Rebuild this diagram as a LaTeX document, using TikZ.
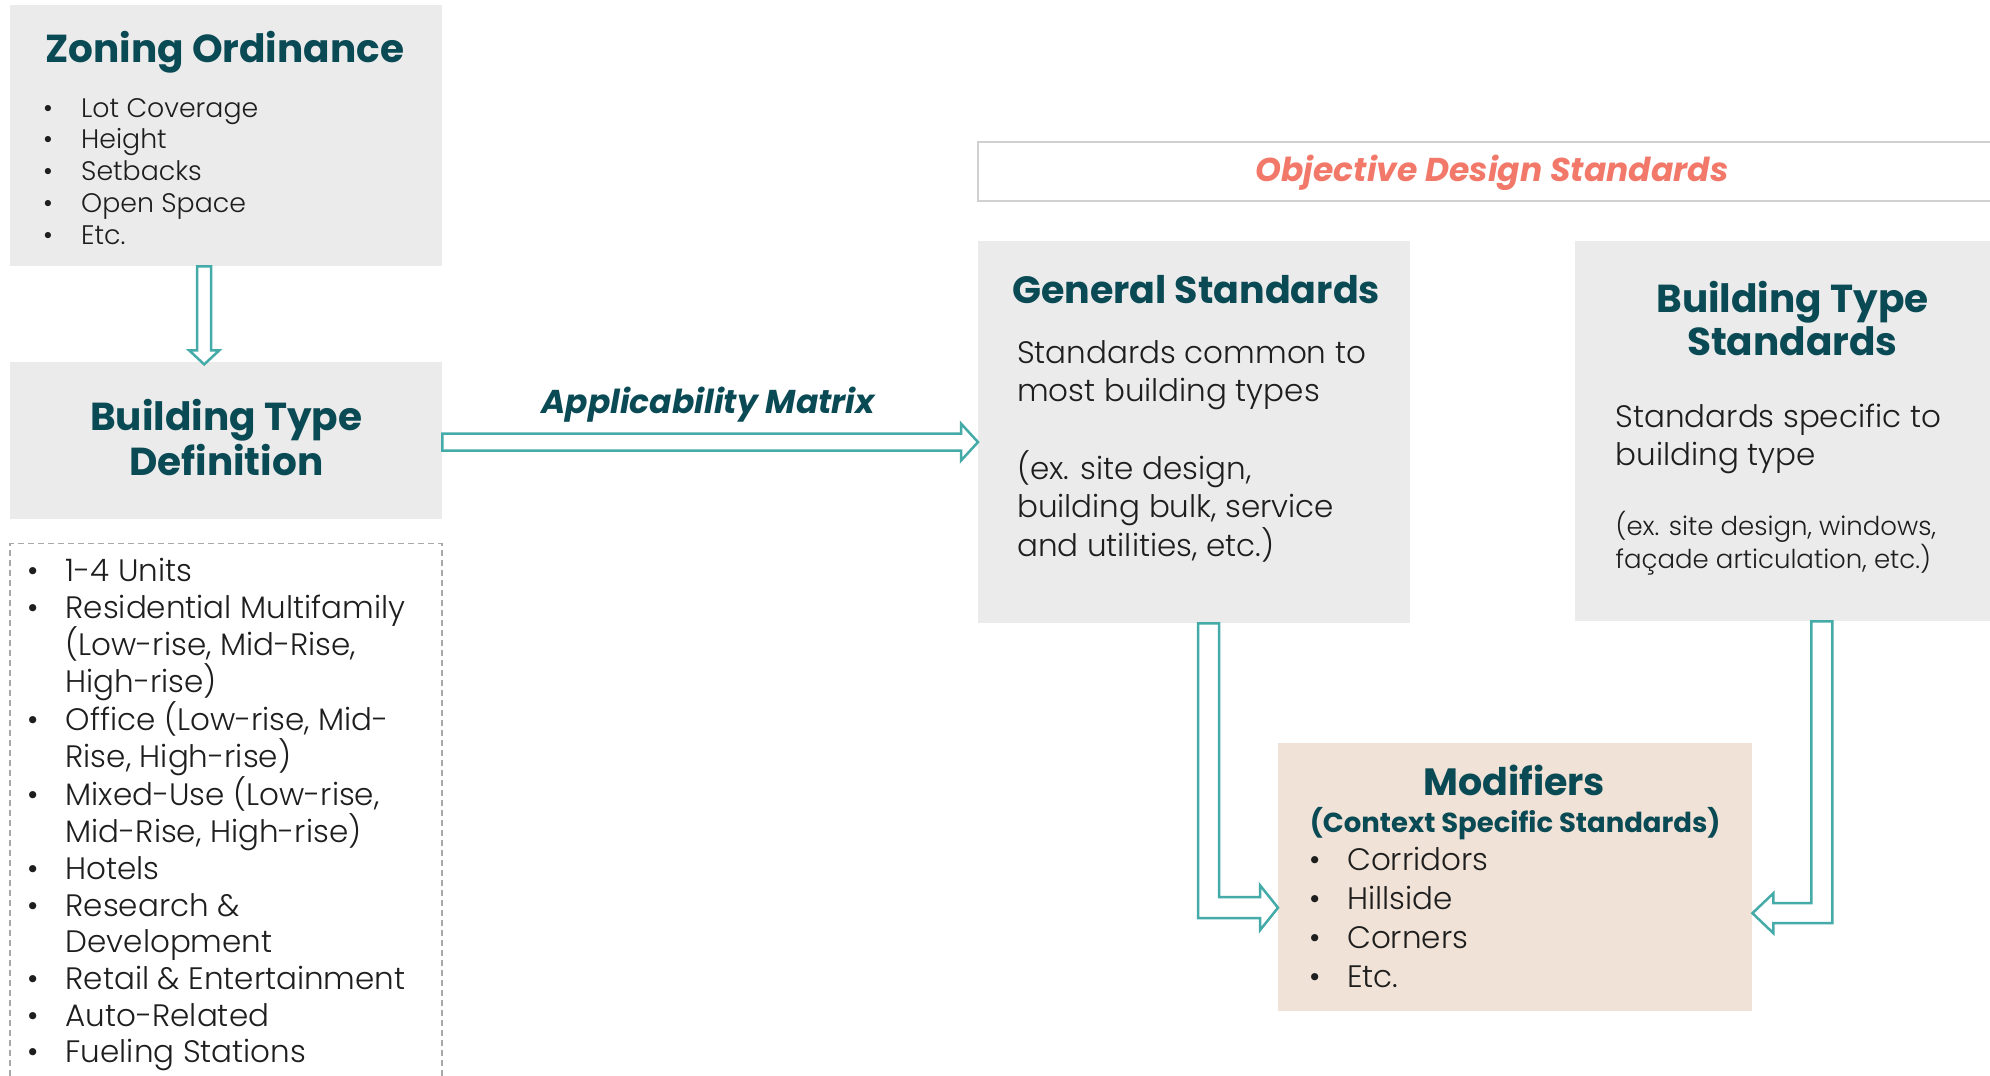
\documentclass[tikz,border=0pt]{standalone}
\usepackage{fontspec}
\setmainfont{Poppins}
\newfontfamily\lightfont{Poppins Light}
\usetikzlibrary{positioning, calc}

\definecolor{boxgray}{HTML}{EBEBEB}
\definecolor{deepteal}{HTML}{0A4A55}
\definecolor{lineteal}{HTML}{45ABA8}
\definecolor{salmon}{HTML}{F2786A}
\definecolor{sand}{HTML}{F0E2D6}
\definecolor{rulegray}{HTML}{D0D0D0}
\definecolor{dashgray}{HTML}{A8A8A8}
\definecolor{ink}{HTML}{1E1E1E}

\tikzstyle{greybox} = [fill=boxgray, inner sep=0pt, minimum width=432pt]
\tikzstyle{hollow} = [draw=lineteal, line width=2.5pt, fill=white, line join=miter]
\tikzstyle{title} = [inner sep=0pt, text=deepteal, font=\fontsize{39}{45}\selectfont\bfseries]
\tikzstyle{body} = [inner sep=0pt, text=ink, align=left]
\tikzstyle{slanted} = [inner sep=0pt, font=\fontsize{33}{40}\selectfont\bfseries\itshape]

\newcommand{\itm}[1][38pt]{\makebox[#1][l]{\textbullet}}

\begin{document}
\begin{tikzpicture}[x=1pt, y=-1pt]
	\useasboundingbox (0,0) rectangle (1990,1076);
	\clip (0,0) rectangle (1990,1076);

	%Boxes
	\node [greybox, minimum height=261pt, anchor=north west] (zon) at (10,5) {};
	\node [greybox, minimum height=157pt, below=95pt of zon] (btd) {};
	\node [draw=dashgray, dash pattern=on 6pt off 4pt, line width=1.5pt, minimum width=432pt, minimum height=560pt, inner sep=0pt, below=24pt of btd] (lst) {};

	\node [greybox, minimum height=382pt, anchor=north west] (gen) at (978,241) {};
	\node [greybox, minimum width=436pt, minimum height=380pt, right=164pt of gen.north east, anchor=north west] (bts) {};
	\node [draw=rulegray, line width=2pt, minimum width=1030pt, minimum height=59pt, inner sep=0pt, anchor=south west] (obj) at ($(gen.north west)+(-1,-39)$) {};
	\node [fill=sand, minimum width=474pt, minimum height=268pt, inner sep=0pt, anchor=north west] (mod) at (1278,743) {};

	%Texts (multi-line nodes sit on the baseline of their last line)
	\node [title, anchor=base west] (zontitle) at ($(zon.north west)+(35,57)$) {Zoning Ordinance};
	\node [body, anchor=base west, font=\lightfont\fontsize{26.8}{31.7}\selectfont] (zonlist) at ($(zon.north west)+(33,239)$)
		{\itm[38pt]Lot Coverage\\ \itm[38pt]Height\\ \itm[38pt]Setbacks\\ \itm[38pt]Open Space\\ \itm[38pt]Etc.};

	\node [title, anchor=base, align=center] (btdtitle) at ($(btd.north)+(0,114)$) {Building Type\\Definition};

	\node [body, anchor=base west, font=\lightfont\fontsize{31}{36.7}\selectfont] (lstitems) at ($(lst.north west)+(18,520)$)
		{\itm 1-4 Units\\
		 \itm Residential Multifamily\\
		 \hspace*{38pt}(Low-rise, Mid-Rise,\\
		 \hspace*{38pt}High-rise)\\
		 \itm Office (Low-rise, Mid-\\
		 \hspace*{38pt}Rise, High-rise)\\
		 \itm Mixed-Use (Low-rise,\\
		 \hspace*{38pt}Mid-Rise, High-rise)\\
		 \itm Hotels\\
		 \itm Research \&\\
		 \hspace*{38pt}Development\\
		 \itm Retail \& Entertainment\\
		 \itm Auto-Related\\
		 \itm Fueling Stations};

	\node [slanted, text=salmon, anchor=base] (objtitle) at ($(obj.north west)+(515,40)$) {Objective Design Standards};

	\node [title, anchor=base west, font=\fontsize{38}{45}\selectfont\bfseries] (gentitle) at ($(gen.north west)+(34,62)$) {General Standards};
	\node [body, anchor=base west, font=\lightfont\fontsize{31}{38.5}\selectfont] (gentext) at ($(gen.north west)+(39,315)$)
		{Standards common to\\most building types\\[39pt]
		 (ex. site design,\\building bulk, service\\and utilities, etc.)};

	\node [title, anchor=base, align=center, font=\fontsize{39}{43}\selectfont\bfseries] (btstitle) at ($(bts.north west)+(218,114)$) {Building Type\\Standards};
	\node [body, anchor=base west, font=\lightfont\fontsize{31}{38}\selectfont] (btstext) at ($(bts.north west)+(41,224)$)
		{Standards specific to\\building type};
	\node [body, anchor=base west, font=\lightfont\fontsize{26}{31}\selectfont] (btsex) at ($(bts.north west)+(41,327)$)
		{(ex. site design, windows,\\façade articulation, etc.)};

	\node [title, anchor=base, font=\fontsize{38}{43}\selectfont\bfseries] (modtitle) at ($(mod.north)+(-1,52)$) {Modifiers};
	\node [inner sep=0pt, text=deepteal, font=\fontsize{27.5}{30}\selectfont\bfseries, anchor=base] (modsub) at ($(mod.north)+(0,89)$) {(Context Specific Standards)};
	\node [body, anchor=base west, font=\lightfont\fontsize{31}{39}\selectfont] (modlist) at ($(mod.north west)+(31,244)$)
		{\itm[38pt]Corridors\\ \itm[38pt]Hillside\\ \itm[38pt]Corners\\ \itm[38pt]Etc.};

	%Arrows
	\draw[hollow] ($(zon.south)+(-29,0)$) -- ++(0,84) -- ++(-8,0) -- ($(btd.north)+(-22,3)$) -- ++(15,-14) -- ++(-8,0) -- ($(zon.south)+(-15,0)$) -- cycle;

	\draw[hollow] ($(btd.east)+(0,-6.5)$) -- ($(gen.west |- btd.east)+(-17,-6.5)$) -- ++(0,-10) -- ($(gen.west |- btd.east)+(0,2)$)
		-- ++(-17,18.5) -- ++(0,-10) -- ($(btd.east)+(0,10.5)$) -- cycle;
	\node [slanted, text=deepteal, anchor=base] (appl) at ($(btd.east)!0.5!(gen.west |- btd.east)+(-2,-26.5)$) {Applicability Matrix};

	\draw[hollow] ($(gen.south)+(4,0)$) |- ($(mod.west)+(-18,41)$) -- ++(0,12) -- ($(mod.west)+(0,30.5)$) -- ++(-18,-22.5) -- ++(0,12) -| ($(gen.south)+(25,0)$) -- cycle;

	\draw[hollow] ($(bts.south west)+(258,0)$) |- ($(mod.east)+(21,46)$) -- ++(0,10) -- ($(mod.east)+(0,36)$) -- ++(21,-20) -- ++(0,10) -| ($(bts.south west)+(237,0)$) -- cycle;

\end{tikzpicture}
\end{document}
